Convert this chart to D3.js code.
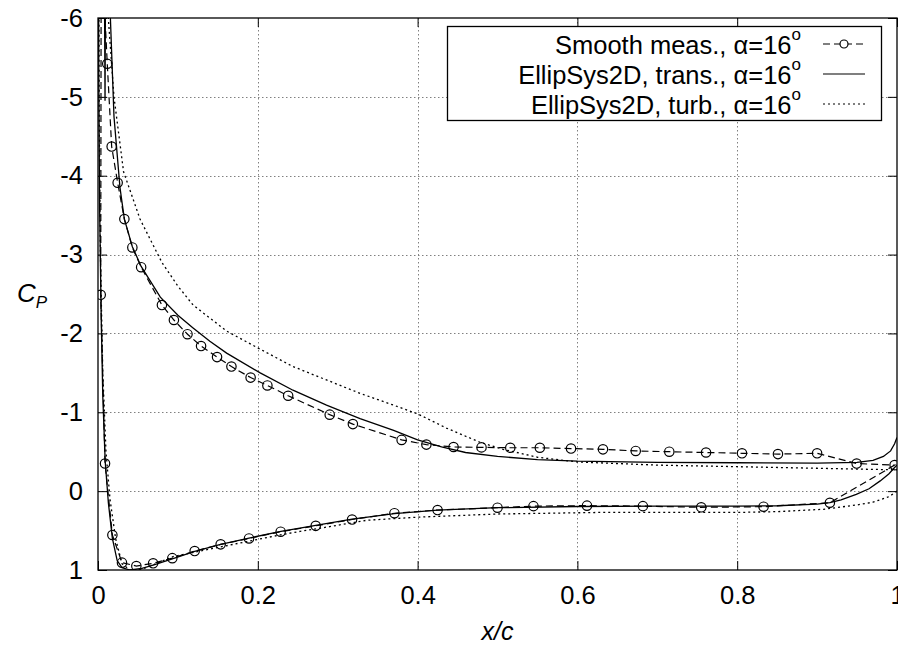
<!DOCTYPE html>
<html>
<head>
<meta charset="utf-8">
<script src="https://cdn.jsdelivr.net/npm/d3@7"></script>
<style>
  body { margin: 0; background: #fff; }
  svg { display: block; }
  text { font-family: "Liberation Sans", Arial, sans-serif; }
</style>
</head>
<body>
<div id="chart"></div>
<script>
// axis ticks
const xTicks = [0, 0.2, 0.4, 0.6, 0.8, 1];
const xTickLabels = ["0", "0.2", "0.4", "0.6", "0.8", "1"];
const yTicks = [-6, -5, -4, -3, -2, -1, 0, 1];
const yTickLabels = ["-6", "-5", "-4", "-3", "-2", "-1", "0", "1"];

// Smooth measurements (closed loop: TE -> lower -> LE -> upper)
const measX = [0.997, 0.916, 0.833, 0.755, 0.682, 0.612, 0.545, 0.500, 0.425, 0.371, 0.318, 0.2725, 0.2286, 0.189, 0.1535, 0.121, 0.093, 0.069, 0.048, 0.030, 0.018, 0.0088, 0.0034, 0.004, 0.0116, 0.0171, 0.0246, 0.033, 0.043, 0.054, 0.080, 0.095, 0.112, 0.129, 0.149, 0.167, 0.191, 0.212, 0.238, 0.290, 0.319, 0.380, 0.411, 0.445, 0.480, 0.516, 0.553, 0.592, 0.632, 0.673, 0.715, 0.761, 0.806, 0.851, 0.900, 0.9495];
const measCp = [-0.33, 0.147, 0.197, 0.205, 0.19, 0.184, 0.19, 0.21, 0.24, 0.28, 0.36, 0.44, 0.514, 0.60, 0.675, 0.76, 0.85, 0.915, 0.95, 0.907, 0.556, -0.35, -2.49, -7.0, -5.42, -4.37, -3.91, -3.45, -3.09, -2.84, -2.36, -2.17, -1.99, -1.84, -1.70, -1.58, -1.44, -1.34, -1.21, -0.97, -0.85, -0.65, -0.59, -0.56, -0.555, -0.55, -0.55, -0.54, -0.53, -0.51, -0.50, -0.49, -0.48, -0.47, -0.48, -0.35];

// EllipSys2D transitional
const transX = [1.0, 0.997, 0.99, 0.979, 0.965, 0.949, 0.93, 0.916, 0.9, 0.85, 0.8, 0.7, 0.6, 0.5, 0.425, 0.371, 0.318, 0.2725, 0.229, 0.189, 0.1535, 0.121, 0.093, 0.07, 0.055, 0.04, 0.03, 0.024, 0.018, 0.013, 0.009, 0.006, 0.004, 0.002, 0.001, 0.0005, 0.0075, 0.0088, 0.0098, 0.0155, 0.02, 0.0275, 0.033, 0.043, 0.054, 0.078, 0.1, 0.119, 0.14, 0.161, 0.203, 0.244, 0.286, 0.328, 0.37, 0.4, 0.43, 0.46, 0.5, 0.55, 0.6, 0.7, 0.8, 0.9, 0.95, 0.97, 0.983, 0.992, 0.997, 1.0];
const transCp = [-0.33, -0.3, -0.22, -0.13, -0.03, 0.04, 0.11, 0.145, 0.165, 0.185, 0.19, 0.19, 0.195, 0.21, 0.24, 0.285, 0.355, 0.435, 0.51, 0.595, 0.675, 0.765, 0.86, 0.935, 0.98, 1.0, 0.97, 0.88, 0.6, 0.15, -0.38, -1.2, -2.2, -3.6, -5.2, -7.5, -7.5, -4.95, -7.5, -6.0, -4.75, -3.85, -3.45, -3.1, -2.85, -2.46, -2.23, -2.07, -1.9, -1.75, -1.5, -1.28, -1.09, -0.92, -0.77, -0.65, -0.56, -0.49, -0.44, -0.40, -0.38, -0.365, -0.36, -0.355, -0.365, -0.39, -0.44, -0.51, -0.6, -0.68];

// EllipSys2D fully turbulent
const turbX = [1.0, 0.99, 0.97, 0.95, 0.908, 0.85, 0.8, 0.7, 0.628, 0.5, 0.4, 0.336, 0.29, 0.253, 0.228, 0.157, 0.094, 0.07, 0.055, 0.04, 0.03, 0.022, 0.015, 0.01, 0.006, 0.003, 0.0015, 0.0008, 0.008, 0.0129, 0.02, 0.032, 0.0526, 0.065, 0.08, 0.1, 0.119, 0.161, 0.203, 0.244, 0.286, 0.328, 0.37, 0.4, 0.436, 0.478, 0.507, 0.55, 0.6, 0.7, 0.8, 0.9, 0.95, 1.0];
const turbCp = [0.0, 0.07, 0.14, 0.175, 0.23, 0.26, 0.27, 0.27, 0.27, 0.29, 0.33, 0.37, 0.45, 0.51, 0.555, 0.70, 0.83, 0.93, 0.99, 1.0, 0.92, 0.6, 0.1, -0.5, -1.5, -3.0, -4.8, -7.5, -7.5, -6.0, -5.0, -4.05, -3.45, -3.2, -2.9, -2.6, -2.36, -2.03, -1.8, -1.58, -1.41, -1.24, -1.09, -0.98, -0.8, -0.62, -0.53, -0.43, -0.37, -0.33, -0.31, -0.29, -0.28, -0.27];

const legendLabels = ["Smooth meas., ", "EllipSys2D, trans., ", "EllipSys2D, turb., "];

const zip = (xs, ys) => xs.map((x, i) => ({x: x, y: ys[i]}));

const W = 898, H = 651;
const margin = {top: 18, right: 1, bottom: 81, left: 98};
const fontSize = 25.5;

const svg = d3.select("#chart").append("svg")
    .attr("width", W)
    .attr("height", H);

const x = d3.scaleLinear().domain([0, 1]).range([margin.left, W - margin.right]);
const y = d3.scaleLinear().domain([-6, 1]).range([margin.top, H - margin.bottom]);

// grid
const grid = svg.append("g").attr("class", "grid")
    .attr("stroke", "#808080")
    .attr("stroke-width", 1)
    .attr("stroke-dasharray", "1.5,2.5");
grid.selectAll(".gx").data(xTicks.slice(1, -1)).enter().append("line")
    .attr("x1", d => Math.round(x(d)) + 0.5).attr("x2", d => Math.round(x(d)) + 0.5)
    .attr("y1", y(-6)).attr("y2", y(1));
grid.selectAll(".gy").data(yTicks.slice(1, -1)).enter().append("line")
    .attr("y1", d => Math.round(y(d)) + 0.5).attr("y2", d => Math.round(y(d)) + 0.5)
    .attr("x1", x(0)).attr("x2", x(1));

// axes with inward ticks
const fmtX = d => xTickLabels[xTicks.indexOf(d)];
const fmtY = d => yTickLabels[yTicks.indexOf(d)];

svg.append("g").attr("transform", `translate(0,${y(1)})`)
    .call(d3.axisBottom(x).tickValues(xTicks).tickFormat(fmtX).tickSize(-9).tickPadding(16));
svg.append("g").attr("transform", `translate(${x(0)},0)`)
    .call(d3.axisLeft(y).tickValues(yTicks).tickFormat(fmtY).tickSize(-9).tickPadding(15));
svg.append("g").attr("transform", `translate(0,${y(-6)})`)
    .call(d3.axisTop(x).tickValues(xTicks).tickFormat("").tickSize(-9));
svg.append("g").attr("transform", `translate(${x(1)},0)`)
    .call(d3.axisRight(y).tickValues(yTicks).tickFormat("").tickSize(-9));

svg.selectAll(".domain").remove();
svg.selectAll(".tick line").attr("stroke", "#000");
svg.selectAll(".tick text")
    .attr("font-family", "'Liberation Sans', Arial, sans-serif")
    .attr("font-size", fontSize)
    .attr("fill", "#000");

// curves
svg.append("clipPath").attr("id", "plotClip")
    .append("rect")
    .attr("x", x(0)).attr("y", y(-6))
    .attr("width", x(1) - x(0)).attr("height", y(1) - y(-6));

const plot = svg.append("g").attr("clip-path", "url(#plotClip)");

const line = d3.line().x(d => x(d.x)).y(d => y(d.y));
const lineClosed = d3.line().x(d => x(d.x)).y(d => y(d.y)).curve(d3.curveLinearClosed);

plot.append("path")
    .datum(zip(turbX, turbCp))
    .attr("d", line)
    .attr("fill", "none").attr("stroke", "#000")
    .attr("stroke-width", 1.3).attr("stroke-dasharray", "2,3");

plot.append("path")
    .datum(zip(transX, transCp))
    .attr("d", line)
    .attr("fill", "none").attr("stroke", "#000")
    .attr("stroke-width", 1.3);

const meas = zip(measX, measCp);
plot.append("path")
    .datum(meas)
    .attr("d", lineClosed)
    .attr("fill", "none").attr("stroke", "#000")
    .attr("stroke-width", 1.2).attr("stroke-dasharray", "7,4");

plot.selectAll(".pt").data(meas).enter().append("circle")
    .attr("class", "pt")
    .attr("cx", d => x(d.x)).attr("cy", d => y(d.y))
    .attr("r", 4.7)
    .attr("fill", "none").attr("stroke", "#000").attr("stroke-width", 1.2);

// frame
svg.append("rect")
    .attr("x", x(0)).attr("y", y(-6))
    .attr("width", x(1) - x(0)).attr("height", y(1) - y(-6))
    .attr("fill", "none").attr("stroke", "#000").attr("stroke-width", 1.3);

// legend
const leg = svg.append("g");
leg.append("rect")
    .attr("x", 447.5).attr("y", 26.5).attr("width", 434).attr("height", 94)
    .attr("fill", "#fff").attr("stroke", "#000").attr("stroke-width", 1.3);

const styles = [
    {dash: "7,4", marker: true},
    {dash: null, marker: false},
    {dash: "2,3", marker: false}
];

legendLabels.forEach((lab, i) => {
    const base = 54 + i * 30;
    const t = leg.append("text")
        .attr("x", 801).attr("y", base)
        .attr("text-anchor", "end")
        .attr("font-size", fontSize)
        .attr("fill", "#000");
    t.append("tspan").text(lab + "\u03b1=16");
    t.append("tspan").attr("font-size", 17).attr("dy", -14).text("o");

    const ly = base - 10;
    leg.append("line")
        .attr("x1", 823).attr("x2", 865)
        .attr("y1", ly).attr("y2", ly)
        .attr("stroke", "#000").attr("stroke-width", 1.2)
        .attr("stroke-dasharray", styles[i].dash);
    if (styles[i].marker) {
        leg.append("circle")
            .attr("cx", 844).attr("cy", ly).attr("r", 4)
            .attr("fill", "#fff").attr("stroke", "#000").attr("stroke-width", 1.2);
    }
});

// axis titles
svg.append("text")
    .attr("x", (x(0) + x(1)) / 2).attr("y", 640)
    .attr("text-anchor", "middle")
    .attr("font-family", "'Liberation Serif', 'Times New Roman', serif")
    .attr("font-style", "italic")
    .attr("font-size", 25)
    .text("x/c");

const yt = svg.append("text")
    .attr("x", 17).attr("y", 302)
    .attr("font-family", "'Liberation Serif', 'Times New Roman', serif")
    .attr("font-style", "italic")
    .attr("font-size", 26);
yt.append("tspan").text("C");
yt.append("tspan").attr("font-size", 17).attr("dy", 6).text("P");
</script>
</body>
</html>
